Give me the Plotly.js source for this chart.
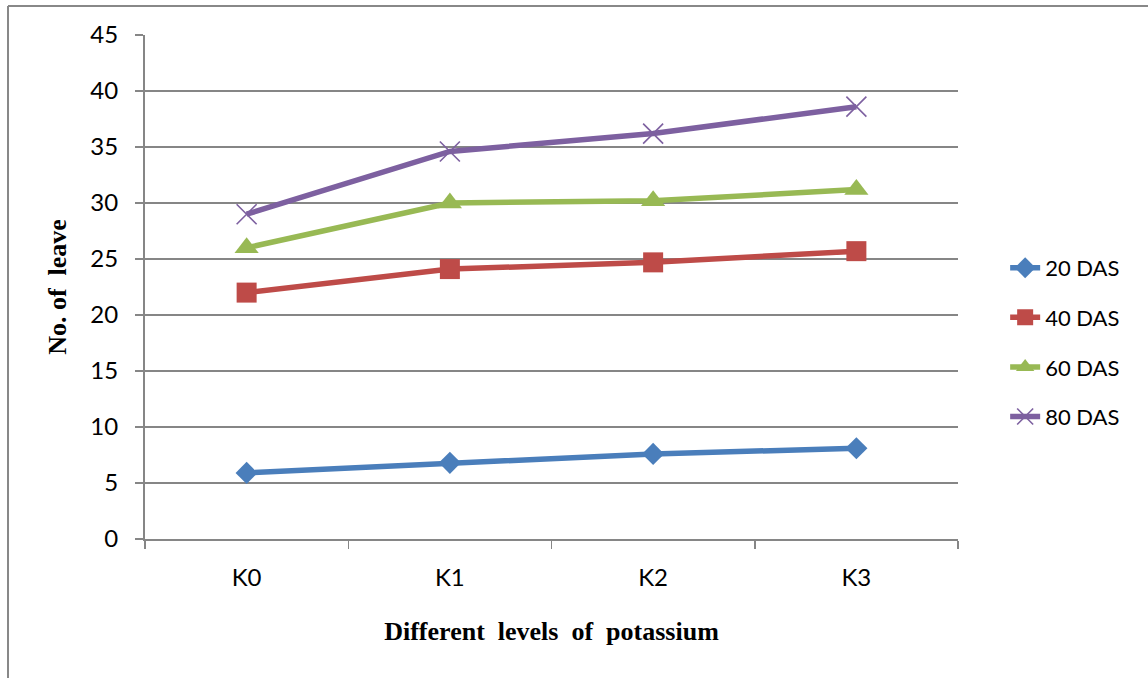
<!DOCTYPE html>
<html>
<head>
<meta charset="utf-8">
<script src="https://cdn.plot.ly/plotly-3.0.1.min.js"></script>
<style>
  html, body { margin: 0; padding: 0; background: #fff; }
  #chart { width: 1148px; height: 678px; }
</style>
</head>
<body>
<div id="chart"></div>
<script>
// Potassium levels on the x axis
const levels = ["K0", "K1", "K2", "K3"];

// Number of leaves at each sampling stage (days after sowing)
const das20 = [5.9, 6.8, 7.6, 8.1];
const das40 = [22.0, 24.1, 24.7, 25.7];
const das60 = [26.0, 30.0, 30.2, 31.2];
const das80 = [29.0, 34.6, 36.2, 38.6];

const seriesNames = ["20 DAS", "40 DAS", "60 DAS", "80 DAS"];
const yTicks = [0, 5, 10, 15, 20, 25, 30, 35, 40, 45];

const styles = [
  { color: "#4a7ebb", symbol: "diamond", size: 17, lw: 0 },
  { color: "#be4b48", symbol: "square", size: 20, lw: 0 },
  { color: "#98b954", symbol: "triangle-up", size: 21, lw: 0 },
  { color: "#7d60a0", symbol: "x-thin-open", size: 20, lw: 1.6 }
];

const allValues = [das20, das40, das60, das80];

const traces = allValues.map((vals, i) => ({
  type: "scatter",
  mode: "lines+markers",
  name: seriesNames[i],
  legendgroup: "g" + i,
  x: levels,
  y: vals,
  line: { color: styles[i].color, width: 5.5 },
  marker: {
    symbol: styles[i].symbol,
    size: styles[i].size,
    color: styles[i].color,
    line: { color: styles[i].color, width: styles[i].lw }
  },
  cliponaxis: false
}));

const tickFont = { family: "Lato, 'Open Sans', sans-serif", size: 24, color: "#000" };
const legendFont = { family: "Lato, 'Open Sans', sans-serif", size: 22, color: "#000" };
const titleFont = { family: "'Liberation Serif', 'Times New Roman', serif", size: 26, color: "#000", weight: "bold" };

const layout = {
  width: 1148,
  height: 678,
  margin: { l: 145, r: 190, t: 35, b: 139 },
  paper_bgcolor: "#fff",
  plot_bgcolor: "#fff",
  showlegend: true,
  xaxis: {
    type: "category",
    tickson: "boundaries",
    ticks: "outside",
    ticklen: 8,
    tickwidth: 1.5,
    tickcolor: "#868686",
    showline: true,
    linecolor: "#868686",
    linewidth: 2,
    showgrid: false,
    tickfont: tickFont,
    ticklabelstandoff: 16,
    title: { text: "<b>Different  levels  of  potassium</b>", font: titleFont, standoff: 32 },
    range: [-0.5, 3.5]
  },
  yaxis: {
    range: [0, 45],
    tickvals: yTicks,
    ticks: "outside",
    ticklen: 8,
    tickwidth: 1.5,
    tickcolor: "#868686",
    showline: true,
    linecolor: "#868686",
    linewidth: 2,
    showgrid: true,
    gridcolor: "#868686",
    gridwidth: 1.5,
    zeroline: false,
    tickfont: tickFont,
    ticklabelstandoff: 12,
    title: { text: "<b>No. of  leave</b>", font: titleFont, standoff: 16 }
  },
  legend: {
    x: 1.058,
    xanchor: "left",
    y: 0.39,
    yanchor: "middle",
    font: legendFont,
    tracegroupgap: 18,
    itemwidth: 30,
    bgcolor: "rgba(0,0,0,0)"
  },
  shapes: [
    // outer chart frame
    { type: "line", xref: "paper", yref: "paper", x0: -0.1685, x1: -0.1685, y0: 1.0575, y1: -0.3, line: { color: "#888", width: 2 } },
    { type: "line", xref: "paper", yref: "paper", x0: -0.1685, x1: 1.3, y0: 1.0575, y1: 1.0575, line: { color: "#888", width: 2 } }
  ]
};

Plotly.newPlot("chart", traces, layout, { displayModeBar: false, staticPlot: true });
</script>
</body>
</html>
